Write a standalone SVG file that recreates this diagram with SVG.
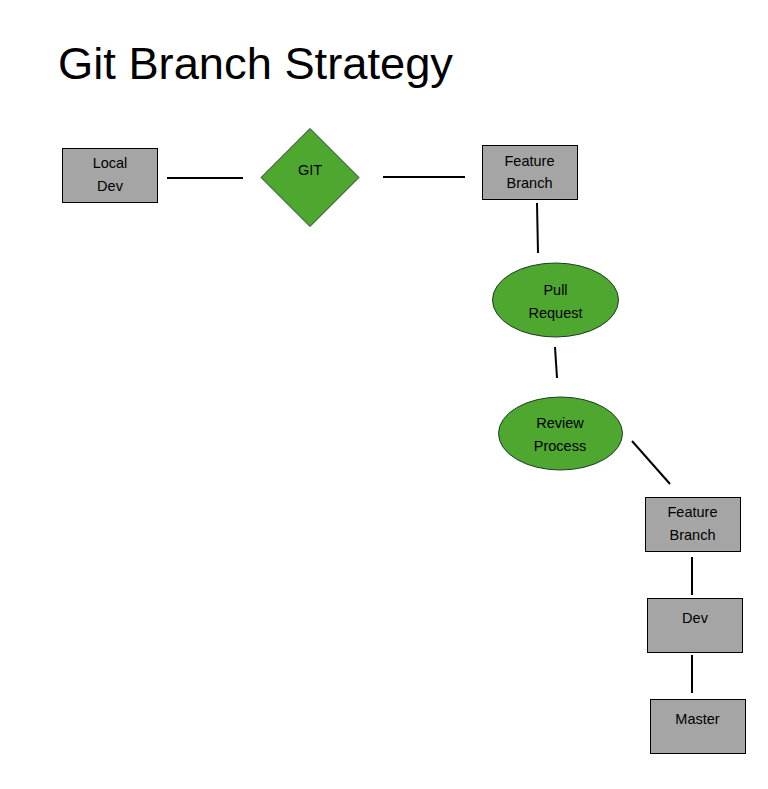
<svg xmlns="http://www.w3.org/2000/svg" width="768" height="789" viewBox="0 0 768 789">
<style>
.box{fill:#A5A5A5;stroke:#000;stroke-width:1}
.green{fill:#4EA72E;stroke:#1F3A2A;stroke-width:1}
.lbl{font-family:"Liberation Sans",Arial,sans-serif;font-size:14.5px;fill:#000;text-anchor:middle}
.conn line{stroke:#000;stroke-width:2}
</style>
<rect width="768" height="789" fill="#fff"/>
<text x="58" y="79" font-family="'Liberation Sans',Arial,sans-serif" font-size="45" textLength="395" lengthAdjust="spacingAndGlyphs" fill="#000">Git Branch Strategy</text>
<g class="conn" id="connectors">
<line x1="167" y1="178" x2="243" y2="178"/>
<line x1="383" y1="177" x2="465" y2="177"/>
<line x1="537" y1="203" x2="538" y2="253"/>
<line x1="555" y1="347" x2="557" y2="378"/>
<line x1="632" y1="441" x2="670" y2="484"/>
<line x1="692" y1="557" x2="692" y2="595"/>
<line x1="692" y1="655" x2="692" y2="693"/>
</g>
<g id="local-dev">
<rect class="box" x="62.5" y="148.5" width="95" height="54"/>
<text class="lbl" x="110" y="168">Local</text>
<text class="lbl" x="110" y="191">Dev</text>
</g>
<g id="git">
<polygon class="green" points="310,128.5 359,177.5 310,226.5 261,177.5"/>
<text class="lbl" x="310" y="175">GIT</text>
</g>
<g id="feature-branch-1">
<rect class="box" x="482.5" y="145.5" width="95" height="54"/>
<text class="lbl" x="529.5" y="165.5">Feature</text>
<text class="lbl" x="529.5" y="188">Branch</text>
</g>
<g id="pull-request">
<ellipse class="green" cx="555.5" cy="300" rx="63" ry="37"/>
<text class="lbl" x="555.5" y="295">Pull</text>
<text class="lbl" x="555.5" y="317.5">Request</text>
</g>
<g id="review-process">
<ellipse class="green" cx="560.5" cy="433.5" rx="62" ry="36.5"/>
<text class="lbl" x="560" y="428">Review</text>
<text class="lbl" x="560" y="451">Process</text>
</g>
<g id="feature-branch-2">
<rect class="box" x="645.5" y="497.5" width="95" height="54"/>
<text class="lbl" x="692.5" y="517">Feature</text>
<text class="lbl" x="692.5" y="539.5">Branch</text>
</g>
<g id="dev">
<rect class="box" x="647.5" y="598.5" width="95" height="54"/>
<text class="lbl" x="695" y="623">Dev</text>
</g>
<g id="master">
<rect class="box" x="650.5" y="699.5" width="95" height="54"/>
<text class="lbl" x="697.5" y="724">Master</text>
</g>
</svg>
